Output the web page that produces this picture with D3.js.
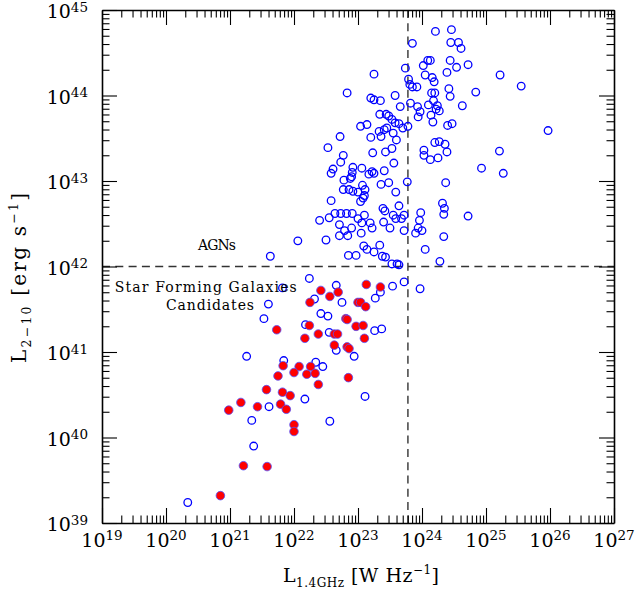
<!DOCTYPE html>
<html><head><meta charset="utf-8">
<script src="https://cdn.jsdelivr.net/npm/d3@7"></script>
<style>body{margin:0;background:#fff}svg{display:block}</style>
</head><body>
<svg id="c" width="639" height="593"></svg>
<script>
// ---- data (log10 luminosities) ----
const xTickExponents = [19,20,21,22,23,24,25,26,27];
const yTickExponents = [39,40,41,42,43,44,45];

// all sources (blue open circles): log L_1.4GHz [W/Hz], log L_2-10 [erg/s]
const allLogL14 = [
24.46,24.21,23.85,24.45,24.57,24.61,24.09,24.13,24.44,24.72,24.02,24.54,23.74,24.39,23.25,24.05,24.16,24.19,25.22,23.79,
23.81,23.85,23.92,25.55,24.42,22.83,24.15,24.20,24.84,24.44,23.58,23.20,23.25,23.35,24.18,23.82,24.10,24.24,23.66,23.93,
24.63,24.22,24.27,23.97,24.14,23.34,23.44,23.48,23.53,23.94,24.17,23.58,23.64,23.78,23.70,23.04,23.14,24.40,24.47,23.33,
23.41,23.45,23.55,25.97,22.72,23.20,23.36,23.60,22.53,23.53,24.03,24.20,24.27,24.36,24.39,23.43,23.23,22.77,24.03,24.13,
24.25,25.21,22.73,23.56,22.61,22.58,22.92,23.06,22.91,22.90,23.22,23.17,23.25,23.41,24.93,25.27,22.78,22.88,23.07,23.36,
23.48,23.77,24.37,22.77,22.86,22.92,23.00,23.11,23.08,23.04,23.10,22.58,23.59,24.32,24.35,24.34,24.72,23.64,23.39,23.42,
23.98,22.64,22.73,22.82,22.91,22.55,22.40,22.71,23.00,23.06,23.10,23.19,23.22,23.55,23.59,23.68,23.72,23.40,23.96,23.50,
23.72,23.94,24.00,23.90,22.90,22.79,22.71,22.84,23.05,24.34,22.50,22.06,23.09,23.14,23.34,23.25,23.38,23.43,22.85,22.97,
24.05,24.28,23.53,23.61,23.64,22.24,23.72,21.63,
21.82,22.66,23.54,23.97,22.32,22.75,23.27,21.60,21.53,22.42,22.53,22.18,22.55,23.26,23.37,22.66,21.26,22.94,21.84,22.34,
22.45,22.17,23.11,21.61,21.34,22.56,21.37,20.34,23.35
];
const allLogLx = [
44.77,44.75,44.61,44.62,44.62,44.55,44.41,44.41,44.41,44.36,44.35,44.33,44.32,44.27,44.25,44.24,44.21,44.16,44.24,44.19,
44.13,44.10,44.10,44.11,44.08,44.03,44.03,44.03,44.04,43.99,44.00,43.97,43.95,43.94,43.94,43.91,43.89,43.88,43.87,43.87,
43.88,43.84,43.82,43.81,43.77,43.78,43.78,43.76,43.72,43.75,43.69,43.68,43.67,43.64,43.62,43.64,43.66,43.65,43.67,43.58,
43.60,43.62,43.56,43.59,43.52,43.51,43.52,43.48,43.39,43.38,43.36,43.45,43.46,43.43,43.34,43.34,43.33,43.30,43.30,43.25,
43.27,43.35,43.22,43.21,43.14,43.09,43.16,43.15,43.10,43.05,43.11,43.08,43.09,43.12,43.15,43.09,43.01,43.03,42.95,42.96,
42.98,42.99,42.98,42.90,42.90,42.88,42.87,42.90,42.80,42.76,42.83,42.77,42.87,42.74,42.68,42.61,42.59,42.71,42.68,42.65,
42.63,42.62,42.62,42.62,42.62,42.57,42.54,42.49,42.56,42.51,42.60,42.51,42.45,42.60,42.56,42.56,42.60,42.52,42.54,42.45,
42.42,42.45,42.42,42.39,42.45,42.42,42.36,42.36,42.39,42.35,42.31,42.30,42.24,42.20,42.25,42.17,42.12,42.11,42.13,42.13,
42.20,42.06,42.03,42.03,42.02,41.86,41.82,42.12,
41.75,41.78,41.77,41.74,41.62,41.58,41.63,41.56,41.39,41.45,41.42,41.32,41.23,41.25,41.27,41.02,40.95,40.95,40.90,40.88,
40.83,40.45,40.48,40.36,40.20,40.19,39.90,39.24,41.70
];

// star forming galaxy candidates (red filled circles)
const sfgLogL14 = [
23.13,23.35,22.42,22.69,22.56,22.25,23.00,23.04,23.12,22.81,22.83,22.24,22.97,23.08,21.73,22.38,22.63,22.68,22.17,23.10,
22.63,22.83,22.86,21.83,22.08,22.26,21.75,22.00,22.20,22.33,22.38,22.85,21.57,21.82,21.94,21.17,21.43,21.79,21.88,20.98,
22.00,22.00,21.21,21.58,20.85
];
const sfgLogLx = [
41.79,41.76,41.72,41.70,41.65,41.58,41.58,41.58,41.53,41.39,41.38,41.31,41.30,41.31,41.26,41.21,41.21,41.21,41.16,41.16,
41.08,41.06,41.04,40.84,40.83,40.83,40.72,40.76,40.74,40.75,40.62,40.70,40.56,40.53,40.49,40.41,40.36,40.39,40.33,40.32,
40.15,40.07,39.67,39.66,39.32
];

const thresholdLogL14 = 23.78;
const thresholdLogLx = 42;
const regionLabelTexts = ["AGNs", "Star Forming Galaxies", "Candidates"];

// ---- drawing ----
const L = 102, R = 614, T = 10, B = 523;
const FONT = "DejaVu Serif, serif";
const svg = d3.select("#c");
const x = d3.scaleLog().domain([1e19, 1e27]).range([L, R]);
const y = d3.scaleLog().domain([1e39, 1e45]).range([B, T]);

const majorX = xTickExponents.map(e => Math.pow(10, e));
const majorY = yTickExponents.map(e => Math.pow(10, e));
const minorX = [], minorY = [];
xTickExponents.slice(0, -1).forEach(e => { for (let m = 2; m <= 9; m++) minorX.push(m * Math.pow(10, e)); });
yTickExponents.slice(0, -1).forEach(e => { for (let m = 2; m <= 9; m++) minorY.push(m * Math.pow(10, e)); });

function drawAxis(gen, tr, vals, size, withDomain) {
  const g = svg.append("g").attr("transform", tr)
    .call(gen.tickValues(vals).tickSizeInner(-size).tickSizeOuter(0).tickFormat(""));
  g.selectAll(".tick line").attr("stroke", "#000").attr("stroke-width", 1.1);
  g.select(".domain").attr("stroke", withDomain ? "#000" : "none").attr("stroke-width", 1.6);
  g.selectAll("text").remove();
  return g;
}
// dashed threshold lines (under the points)
const dash = svg.append("g").attr("stroke", "#333").attr("stroke-width", 1.4).attr("stroke-dasharray", "8,5.3");
dash.append("line").attr("x1", L).attr("x2", R)
  .attr("y1", y(Math.pow(10, thresholdLogLx))).attr("y2", y(Math.pow(10, thresholdLogLx)));
dash.append("line").attr("y1", T).attr("y2", B)
  .attr("x1", x(Math.pow(10, thresholdLogL14))).attr("x2", x(Math.pow(10, thresholdLogL14)));

// axes with inward ticks on all four sides
[[d3.axisBottom, `translate(0,${B})`, x], [d3.axisTop, `translate(0,${T})`, x]].forEach(([f, tr, s]) => {
  drawAxis(f(s), tr, minorX, 7.5, false);
  drawAxis(f(s), tr, majorX, 15, true);
});
[[d3.axisLeft, `translate(${L},0)`, y], [d3.axisRight, `translate(${R},0)`, y]].forEach(([f, tr, s]) => {
  drawAxis(f(s), tr, minorY, 7.5, false);
  drawAxis(f(s), tr, majorY, 15, true);
});

// tick labels
xTickExponents.forEach(e => {
  const t = svg.append("text").attr("x", x(Math.pow(10, e))).attr("y", 547)
    .attr("text-anchor", "middle").attr("font-family", FONT).attr("fill", "#000");
  t.append("tspan").attr("font-size", 19).text("10");
  t.append("tspan").attr("font-size", 13.5).attr("dy", -7).text(e);
});
yTickExponents.forEach(e => {
  const t = svg.append("text").attr("x", 88).attr("y", y(Math.pow(10, e)) + 8)
    .attr("text-anchor", "end").attr("font-family", FONT).attr("fill", "#000");
  t.append("tspan").attr("font-size", 19).text("10");
  t.append("tspan").attr("font-size", 13.5).attr("dy", -6.5).text(e);
});

// axis titles
const xt = svg.append("text").attr("x", 361).attr("y", 582).attr("text-anchor", "middle")
  .attr("font-family", FONT).attr("font-size", 19).attr("fill", "#000")
  .attr("textLength", 156).attr("lengthAdjust", "spacing");
xt.append("tspan").text("L");
xt.append("tspan").attr("font-size", 12).attr("dy", 5).text("1.4GHz");
xt.append("tspan").attr("dy", -5).text(" [W  Hz");
xt.append("tspan").attr("font-size", 12).attr("dy", -8).text("−1");
xt.append("tspan").attr("dy", 8).text("]");

const yt = svg.append("text").attr("transform", "translate(26,278) rotate(-90)").attr("text-anchor", "middle")
  .attr("font-family", FONT).attr("font-size", 20).attr("fill", "#000")
  .attr("textLength", 170).attr("lengthAdjust", "spacing");
yt.append("tspan").text("L");
yt.append("tspan").attr("font-size", 12.5).attr("dy", 5).text("2−10");
yt.append("tspan").attr("dy", -5).text(" [erg  s");
yt.append("tspan").attr("font-size", 12.5).attr("dy", -8).text("−1");
yt.append("tspan").attr("dy", 8).text("]");

// points
const allPts = allLogL14.map((v, i) => [Math.pow(10, v), Math.pow(10, allLogLx[i])]);
const sfgPts = sfgLogL14.map((v, i) => [Math.pow(10, v), Math.pow(10, sfgLogLx[i])]);
svg.append("g").selectAll("circle").data(allPts).join("circle")
  .attr("cx", d => x(d[0])).attr("cy", d => y(d[1])).attr("r", 3.8)
  .attr("fill", "none").attr("stroke", "#0000ff").attr("stroke-width", 1.3);
svg.append("g").selectAll("circle").data(sfgPts).join("circle")
  .attr("cx", d => x(d[0])).attr("cy", d => y(d[1])).attr("r", 4.3)
  .attr("fill", "#ff0000").attr("stroke", "#5050ff").attr("stroke-width", 0.8);

// region annotations (anchor position in data units: log L1.4, log Lx; and text width)
const labelPlacement = [[20.50, 42.19, 38], [19.20, 41.70, 182], [20.00, 41.49, 88]];
svg.append("g").selectAll("text").data(regionLabelTexts).join("text")
  .attr("x", (d, i) => x(Math.pow(10, labelPlacement[i][0])))
  .attr("y", (d, i) => y(Math.pow(10, labelPlacement[i][1])))
  .attr("font-family", FONT).attr("font-size", 14).attr("fill", "#000")
  .attr("textLength", (d, i) => labelPlacement[i][2]).attr("lengthAdjust", "spacing")
  .text(d => d);
</script>
</body></html>
